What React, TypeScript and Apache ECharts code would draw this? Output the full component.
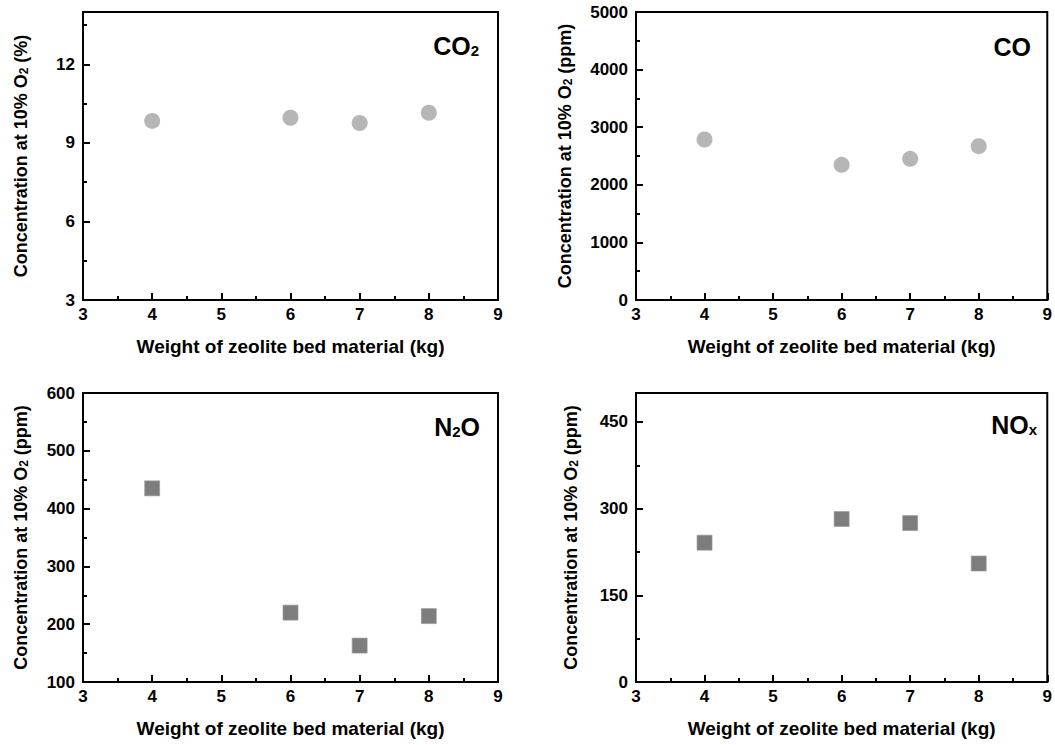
import React, { useEffect, useRef } from "react";
import * as echarts from "echarts";

const weights = [4, 6, 7, 8];
const co2Percent = [9.84, 9.96, 9.76, 10.15];
const coPpm = [2787, 2347, 2451, 2671];
const n2oPpm = [435, 220, 163, 214];
const noxPpm = [241, 282, 275, 205];

const xMin = 3;
const xMax = 9;
const xInterval = 1;
const yMins = [3, 0, 100, 0];
const yMaxs = [14, 5000, 600, 500];
const yIntervals = [3, 1000, 100, 150];
const yUnits = ["%", "ppm", "ppm", "ppm"];
const gasMain = [["CO", "2", ""], ["CO", "", ""], ["N", "2", "O"], ["NO", "x", ""]];
const seriesValues = [co2Percent, coPpm, n2oPpm, noxPpm];
const xTitle = "Weight of zeolite bed material (kg)";

const FONT = "'Liberation Sans', Arial, sans-serif";

export default function App() {
  const ref = useRef<HTMLDivElement>(null);
  useEffect(() => {
    if (!ref.current) return;
    const chart = echarts.init(ref.current, null, { renderer: "svg" });
    const grids = [
      { left: 83, top: 12, width: 415, height: 288 },
      { left: 636, top: 12, width: 414, height: 288 },
      { left: 83, top: 393, width: 415, height: 289 },
      { left: 636, top: 393, width: 414, height: 289 },
    ];
    const yNameGaps = [53, 62, 53, 56];
    const labelPos = [
      { x: 479, y: 33 },
      { x: 1031, y: 34 },
      { x: 480, y: 414 },
      { x: 1037, y: 412 },
    ];
    const xAxes: any[] = [];
    const yAxes: any[] = [];
    const series: any[] = [];
    const graphics: any[] = [];
    grids.forEach((g, i) => {
      xAxes.push({
        type: "value",
        gridIndex: i,
        min: xMin,
        max: xMax,
        interval: xInterval,
        name: xTitle,
        nameLocation: "middle",
        nameGap: 37,
        nameTextStyle: { fontFamily: FONT, fontWeight: "bold", fontSize: 19, color: "#000" },
        axisLine: { show: true, lineStyle: { color: "#000", width: 2 } },
        axisTick: { show: true, inside: true, length: 7, lineStyle: { color: "#000", width: 2 } },
        minorTick: { show: true, splitNumber: 2, length: 4, lineStyle: { color: "#000", width: 2 } },
        splitLine: { show: false },
        axisLabel: { fontFamily: FONT, fontWeight: "bold", fontSize: 17, color: "#000", margin: 6 },
      });
      const mn = yMins[i];
      const iv = yIntervals[i];
      yAxes.push({
        type: "value",
        gridIndex: i,
        position: "left",
        min: mn,
        max: yMaxs[i],
        interval: iv,
        name: `{a|Concentration at 10% O}{s|2}{a| (${yUnits[i]})}`,
        nameLocation: "middle",
        nameGap: yNameGaps[i],
        nameTextStyle: {
          rich: {
            a: { fontFamily: FONT, fontWeight: "bold", fontSize: 18, color: "#000" },
            s: { fontFamily: FONT, fontWeight: "bold", fontSize: 12, color: "#000", verticalAlign: "bottom" },
          },
        },
        axisLine: { show: true, lineStyle: { color: "#000", width: 2 } },
        axisTick: { show: true, inside: true, length: 7, lineStyle: { color: "#000", width: 2 } },
        splitLine: { show: false },
        axisLabel: {
          fontFamily: FONT,
          fontWeight: "bold",
          fontSize: 17,
          color: "#000",
          margin: 8,
          formatter: (v: number) => ((v - mn) % iv === 0 ? String(v) : ""),
        },
      });
      yAxes.push({
        type: "value",
        gridIndex: i,
        position: "left",
        min: mn,
        max: yMaxs[i],
        interval: iv / 2,
        axisLine: { show: false },
        axisTick: { show: true, inside: true, length: 4, lineStyle: { color: "#000", width: 2 } },
        splitLine: { show: false },
        axisLabel: { show: false },
      });
      const isCircle = i < 2;
      series.push({
        type: "scatter",
        xAxisIndex: i,
        yAxisIndex: i * 2,
        symbol: isCircle ? "circle" : "rect",
        symbolSize: isCircle ? 16 : 15,
        itemStyle: isCircle
          ? { color: "#a4a4a4" }
          : { color: "#5c5c5c", borderColor: "#9a9a9a", borderWidth: 0.8 },
        data: weights.map((w, k) => [w, seriesValues[i][k]]),
      });
      const [m1, sub, m2] = gasMain[i];
      graphics.push({
        type: "text",
        x: labelPos[i].x,
        y: labelPos[i].y,
        style: {
          text: `{m|${m1}}` + (sub ? `{s|${sub}}` : "") + (m2 ? `{m|${m2}}` : ""),
          align: "right",
          verticalAlign: "top",
          rich: {
            m: { fontFamily: FONT, fontWeight: "bold", fontSize: 25, fill: "#000", color: "#000" },
            s: { fontFamily: FONT, fontWeight: "bold", fontSize: 15, fill: "#000", color: "#000", verticalAlign: "bottom" },
          },
        },
      });
    });
    chart.setOption({
      animation: false,
      backgroundColor: "#fff",
      grid: grids.map((g) => ({ ...g, show: true, borderColor: "#000", borderWidth: 2, containLabel: false })),
      xAxis: xAxes,
      yAxis: yAxes,
      series,
      graphic: graphics,
    });
    return () => chart.dispose();
  }, []);
  return (
    <div
      ref={ref}
      style={{ position: "fixed", left: 0, top: 0, width: 1055, height: 745, background: "#fff" }}
    />
  );
}
